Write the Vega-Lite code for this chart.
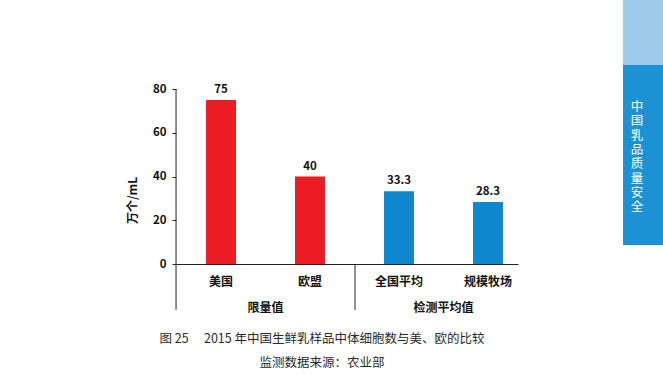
{
  "$schema": "https://vega.github.io/schema/vega-lite/v6.json",
  "background": "white",
  "padding": {"left": 126, "top": 0, "right": 0, "bottom": 0},
  "spacing": 105,
  "config": {"font": "Noto Sans CJK SC", "view": {"stroke": null}},
  "datasets": {
    "milk": [
      {"region": "美国", "group": "限量值", "value": 75},
      {"region": "欧盟", "group": "限量值", "value": 40},
      {"region": "全国平均", "group": "检测平均值", "value": 33.3},
      {"region": "规模牧场", "group": "检测平均值", "value": 28.3}
    ],
    "side": [{"lines": "中\n国\n乳\n品\n质\n量\n安\n全"}]
  },
  "hconcat": [
    {
      "width": 342,
      "height": 264,
      "data": {"name": "milk"},
      "title": {
        "text": ["图 25\u3000 2015 年中国生鲜乳样品中体细胞数与美、欧的比较", "监测数据来源：农业部"],
        "orient": "bottom",
        "anchor": "middle",
        "frame": "bounds",
        "fontSize": 12.5,
        "fontWeight": "normal",
        "color": "#2a2a2a",
        "lineHeight": 24,
        "offset": 19
      },
      "layer": [
        {
          "mark": {"type": "bar"},
          "encoding": {
            "x": {
              "field": "region", "type": "nominal", "sort": null,
              "scale": {"paddingInner": 0.663, "paddingOuter": 0.253, "align": 0.667},
              "axis": {"title": null, "domain": true, "domainColor": "#222222", "ticks": false, "labelAngle": 0, "labelFontWeight": "bold", "labelFontSize": 12, "labelColor": "#111111", "labelPadding": 12}
            },
            "y": {
              "field": "value", "type": "quantitative",
              "scale": {"domain": [0, 80], "range": [264, 89], "nice": false, "zero": true},
              "axis": {"values": [0, 20, 40, 60, 80], "domain": false, "grid": false, "ticks": true, "tickSize": 4, "tickColor": "#222222", "labelFontWeight": "bold", "labelFontSize": 11.5, "labelColor": "#111111", "labelPadding": 6, "title": "万个/mL", "titleFontSize": 12, "titleFontWeight": "bold", "titleColor": "#111111", "titleX": -44, "titleY": 200, "titleAlign": "center", "titleBaseline": "middle"}
            },
            "color": {"field": "group", "type": "nominal", "scale": {"domain": ["限量值", "检测平均值"], "range": ["#ec1c24", "#0e87cf"]}, "legend": null}
          }
        },
        {
          "mark": {"type": "text", "baseline": "bottom", "dy": -5, "fontSize": 11.5, "fontWeight": "bold", "color": "#111111"},
          "encoding": {
            "x": {"field": "region", "type": "nominal", "sort": null},
            "y": {"field": "value", "type": "quantitative"},
            "text": {"field": "value", "type": "quantitative", "format": ".1~f"}
          }
        },
        {
          "transform": [{"filter": {"field": "region", "oneOf": ["美国", "全国平均"]}}],
          "mark": {"type": "text", "baseline": "middle", "dy": 44, "fontSize": 12, "fontWeight": "bold", "color": "#111111"},
          "encoding": {
            "x": {"field": "region", "type": "nominal", "sort": null, "bandPosition": 1.984},
            "y": {"datum": 0, "type": "quantitative"},
            "text": {"field": "group"}
          }
        },
        {
          "transform": [{"filter": {"field": "region", "equal": "美国"}}],
          "mark": {"type": "rule", "color": "#222222", "strokeWidth": 1},
          "encoding": {
            "x": {"field": "region", "type": "nominal", "sort": null, "bandPosition": -1},
            "y": {"datum": 80, "type": "quantitative"},
            "y2": {"datum": -21}
          }
        },
        {
          "transform": [{"filter": {"field": "region", "equal": "欧盟"}}],
          "mark": {"type": "rule", "color": "#222222", "strokeWidth": 1},
          "encoding": {
            "x": {"field": "region", "type": "nominal", "sort": null, "bandPosition": 2},
            "y": {"datum": 0, "type": "quantitative"},
            "y2": {"datum": -21}
          }
        }
      ]
    },
    {
      "spacing": 0,
      "vconcat": [
        {
          "width": 40,
          "height": 65,
          "data": {"values": [{"part": "header"}]},
          "mark": {"type": "rect", "color": "#9ecbe9"},
          "encoding": {}
        },
        {
          "width": 40,
          "height": 180,
          "data": {"name": "side"},
          "layer": [
            {"mark": {"type": "rect", "color": "#1c92d5"}, "encoding": {}},
            {
              "mark": {"type": "text", "color": "white", "fontSize": 12.5, "lineBreak": "\n", "lineHeight": 14.3, "dx": -6, "dy": -48, "align": "center", "baseline": "middle"},
              "encoding": {"text": {"field": "lines"}}
            }
          ]
        }
      ]
    }
  ]
}
